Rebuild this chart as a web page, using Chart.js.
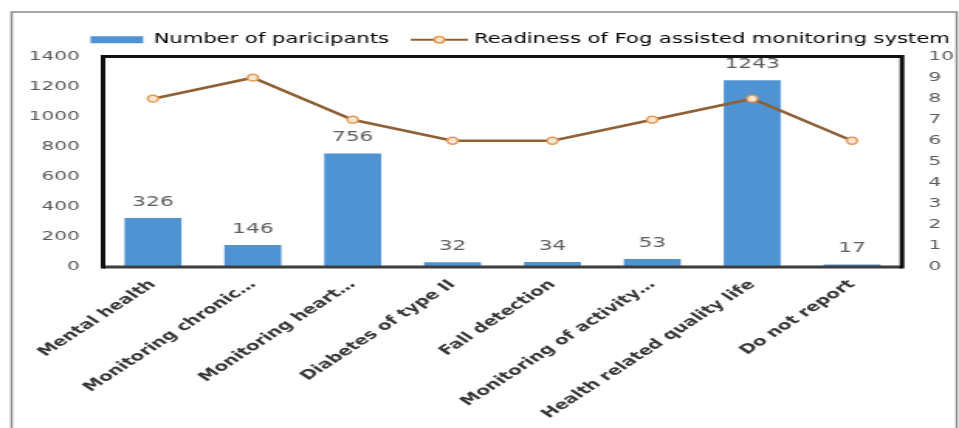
<!DOCTYPE html>
<html>
<head>
<meta charset="utf-8">
<script src="https://cdn.jsdelivr.net/npm/chart.js@4.4.1/dist/chart.umd.min.js"></script>
<style>
html,body{margin:0;padding:0;background:#fff;overflow:hidden;width:959px;height:428px}
#wrap{position:absolute;left:0;top:0;width:619px;height:428px;transform:scaleX(1.54927);transform-origin:0 0}
</style>
</head>
<body>
<div id="wrap"><canvas id="c"></canvas></div>
<script>
const categories = ["Mental health", "Monitoring chronic\u2026", "Monitoring heart\u2026", "Diabetes of type II", "Fall detection", "Monitoring of activity\u2026", "Health related quality life", "Do not report"];
const participants = [326, 146, 756, 32, 34, 53, 1243, 17];
const readiness = [8, 9, 7, 6, 6, 7, 8, 6];
const leftTicks = [0, 200, 400, 600, 800, 1000, 1200, 1400];
const rightTicks = [0, 1, 2, 3, 4, 5, 6, 7, 8, 9, 10];
const seriesNames = ["Number of paricipants", "Readiness of Fog assisted monitoring system"];

const BAR = '#5093d3';
const LINE = '#8e6036';
const MARK_FILL = '#f8e6d2';
const MARK_EDGE = '#e39a55';

Chart.defaults.font.family = "'DejaVu Sans', sans-serif";

const outerBorder = {
  id: 'outerBorder',
  beforeDraw(chart) {
    const ctx = chart.ctx;
    ctx.save();
    ctx.fillStyle = '#fff';
    ctx.fillRect(0, 0, chart.width, chart.height);
    ctx.strokeStyle = '#8a8a8a';
    ctx.lineWidth = 1.5;
    ctx.strokeRect(7.5, 12, 610, 440);
    ctx.restore();
  }
};

const frame = {
  id: 'frame',
  afterDatasetsDraw(chart) {
    const {ctx, chartArea: a} = chart;
    ctx.save();
    ctx.lineWidth = 3;
    ctx.strokeStyle = '#3d3d3d';
    ctx.beginPath();
    ctx.moveTo(a.left, a.bottom);
    ctx.lineTo(a.right, a.bottom);
    ctx.stroke();
    ctx.strokeStyle = '#111';
    ctx.beginPath();
    ctx.moveTo(a.left, a.bottom + 1.5);
    ctx.lineTo(a.left, a.top);
    ctx.lineTo(a.right, a.top);
    ctx.lineTo(a.right, a.bottom + 1.5);
    ctx.stroke();
    ctx.restore();
  }
};

const valueLabels = {
  id: 'valueLabels',
  afterDatasetsDraw(chart) {
    const ctx = chart.ctx;
    const meta = chart.getDatasetMeta(0);
    ctx.save();
    ctx.fillStyle = '#606060';
    ctx.font = "14px 'DejaVu Sans', sans-serif";
    ctx.textAlign = 'center';
    ctx.textBaseline = 'alphabetic';
    meta.data.forEach((el, i) => {
      ctx.fillText(String(chart.data.datasets[0].data[i]), el.x, el.y - 12);
    });
    ctx.restore();
  }
};

const legendLine = {
  id: 'legendLine',
  afterDraw(chart) {
    const lg = chart.legend;
    if (!lg || !lg.legendHitBoxes || lg.legendHitBoxes.length < 2) return;
    const hb = lg.legendHitBoxes[1];
    const ctx = chart.ctx;
    const y = hb.top + hb.height / 2;
    ctx.save();
    ctx.strokeStyle = LINE;
    ctx.lineWidth = 2;
    ctx.beginPath();
    ctx.moveTo(hb.left, y);
    ctx.lineTo(hb.left + 37, y);
    ctx.stroke();
    ctx.fillStyle = MARK_FILL;
    ctx.strokeStyle = MARK_EDGE;
    ctx.lineWidth = 1.5;
    ctx.beginPath();
    ctx.arc(hb.left + 18.5, y, 3.2, 0, Math.PI * 2);
    ctx.fill();
    ctx.stroke();
    ctx.restore();
  }
};

new Chart(document.getElementById('c'), {
  data: {
    labels: categories,
    datasets: [
      {
        type: 'bar',
        label: seriesNames[0],
        data: participants,
        backgroundColor: BAR,
        yAxisID: 'y',
        order: 1,
        barPercentage: 0.57,
        categoryPercentage: 1.0
      },
      {
        type: 'line',
        label: seriesNames[1],
        data: readiness,
        borderColor: LINE,
        borderWidth: 2.6,
        pointRadius: 3.4,
        pointBackgroundColor: MARK_FILL,
        pointBorderColor: MARK_EDGE,
        pointBorderWidth: 1.5,
        tension: 0,
        yAxisID: 'y1',
        order: 0
      }
    ]
  },
  options: {
    responsive: true,
    maintainAspectRatio: false,
    animation: false,
    layout: { padding: { top: 19, left: 0, right: -8, bottom: 0 } },
    plugins: {
      tooltip: { enabled: false },
      legend: {
        position: 'top',
        align: 'end',
        labels: {
          boxWidth: 34,
          boxHeight: 7,
          padding: 14,
          color: '#404040',
          font: { size: 13.6 },
          generateLabels() {
            return [
              { text: seriesNames[0], fillStyle: BAR, strokeStyle: BAR, lineWidth: 0, datasetIndex: 0, hidden: false },
              { text: seriesNames[1], fillStyle: 'rgba(0,0,0,0)', strokeStyle: 'rgba(0,0,0,0)', lineWidth: 0, datasetIndex: 1, hidden: false }
            ];
          }
        }
      }
    },
    scales: {
      x: {
        grid: { display: false, drawTicks: false },
        border: { display: false },
        ticks: { minRotation: 45, maxRotation: 45, autoSkip: false, padding: 10, color: '#383838', font: { size: 13, weight: 'bold' } },
        afterFit(s) { s.height = 161; }
      },
      y: {
        position: 'left',
        min: leftTicks[0],
        max: leftTicks[leftTicks.length - 1],
        grid: { display: false, drawTicks: false },
        border: { display: false },
        ticks: { stepSize: leftTicks[1] - leftTicks[0], padding: 15, color: '#5a5a5a', font: { size: 13 }, callback: (v) => String(v) },
        afterFit(s) { s.width = 66.5; }
      },
      y1: {
        position: 'right',
        min: rightTicks[0],
        max: rightTicks[rightTicks.length - 1],
        grid: { display: false, drawTicks: false },
        border: { display: false },
        ticks: { stepSize: rightTicks[1] - rightTicks[0], padding: 17, color: '#5a5a5a', font: { size: 13 }, callback: (v) => String(v) },
        afterFit(s) { s.width = 44.8; }
      }
    }
  },
  plugins: [outerBorder, frame, valueLabels, legendLine]
});
</script>
</body>
</html>
